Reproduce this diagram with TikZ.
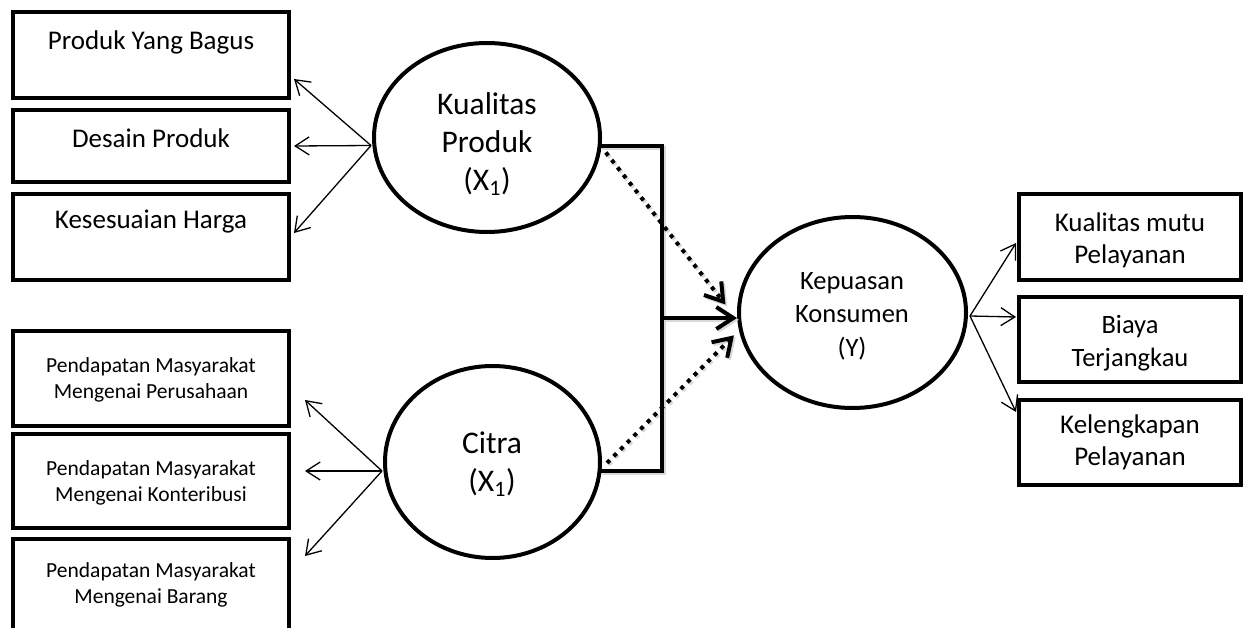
\documentclass[tikz,border=0pt]{standalone}
\usepackage{fontspec}
\setmainfont{Carlito}
\usetikzlibrary{arrows.meta,calc,shapes.geometric}
\begin{document}
\begin{tikzpicture}[x=1pt,y=-1pt,
  box/.style={draw, line width=4pt, rectangle, inner sep=0pt},
  lat/.style={draw, line width=4pt, ellipse, inner sep=0pt},
  thinarr/.style={line width=1.3pt, -{Straight Barb[length=14pt,width=18pt]}},
  thk/.style={line width=4pt},
  thkarr/.style={line width=4pt, -{Straight Barb[length=17pt,width=22pt]}},
  dotarr/.style={line width=4pt, dash pattern=on 4pt off 5.5pt, -{Straight Barb[length=17pt,width=22pt]}},
  shd/.style={draw=black!15, transform canvas={shift={(1.8pt,-1.8pt)}}},
  nos/.style={},
  tA/.style={font=\fontsize{27}{32}\selectfont, align=center, inner sep=0pt},
  tB/.style={font=\fontsize{21.5}{25.5}\selectfont, align=center, inner sep=0pt},
  tC/.style={font=\fontsize{31.5}{38}\selectfont, align=center, inner sep=0pt},
  tD/.style={font=\fontsize{26.5}{33.5}\selectfont, align=center, inner sep=0pt},
]
\useasboundingbox (0,0) rectangle (1244,628);
\clip (0,0) rectangle (1244,628);
\fill[white] (0,0) rectangle (1244,628);

% left upper boxes
\node[box, minimum width=276, minimum height=86] (b1) at (151,55) {};
\node[box, minimum width=276, minimum height=72] (b2) at (151,146) {};
\node[box, minimum width=276, minimum height=86] (b3) at (151,237) {};
\node[tA] (t1) at (151,42) {Produk Yang Bagus};
\node[tA] (t2) at (151,138) {Desain Produk};
\node[tA] (t3) at (151,222) {Kesesuaian Harga};

% left lower boxes
\node[box, minimum width=276, minimum height=95] (b4) at (151,378.5) {};
\node[box, minimum width=276, minimum height=94] (b5) at (151,481) {};
\node[box, minimum width=276, minimum height=120] (b6) at (151,599) {};
\node[tB] (t4) at (151,380) {Pendapatan Masyarakat\\Mengenai Perusahaan};
\node[tB] (t5) at (151,483) {Pendapatan Masyarakat\\Mengenai Konteribusi};
\node[tB] (t6) at (151,585) {Pendapatan Masyarakat\\Mengenai Barang};

% right boxes
\node[box, minimum width=222, minimum height=86] (b7) at (1130,237) {};
\node[box, minimum width=222, minimum height=85] (b8) at (1130,339.5) {};
\node[box, minimum width=222, minimum height=85] (b9) at (1130,442.5) {};
\node[tA] (t7) at (1130,240) {Kualitas mutu\\Pelayanan};
\node[tD] (t8) at (1130,343) {Biaya\\Terjangkau};
\node[tA] (t9) at (1130,442) {Kelengkapan\\Pelayanan};

% latent ellipses
\node[lat, minimum width=226, minimum height=189] (kual) at (487,137.5) {};
\node[lat, minimum width=215, minimum height=192] (citra) at (492.5,462) {};
\node[lat, minimum width=227, minimum height=191] (kep) at (852.5,312.5) {};
\node[tC] (tk) at (487,144) {Kualitas\\Produk\\(X\textsubscript{1})};
\node[tC] (tc) at (492,464) {Citra\\(X\textsubscript{1})};
\node[tD] (tkp) at (852,316) {Kepuasan\\Konsumen\\(Y)};

% indicator arrows
\draw[thinarr] ($(kual.west)+(-1,8)$) -- ($(b1.east)+(3,24)$);
\draw[thinarr] ($(kual.west)+(-1,8)$) -- ($(b2.east)+(3,0)$);
\draw[thinarr] ($(kual.west)+(-1,8)$) -- ($(b3.east)+(3,-4)$);
\draw[thinarr] ($(citra.west)+(-1,9)$) -- ($(b4.east)+(14,21.5)$);
\draw[thinarr] ($(citra.west)+(-1,9)$) -- ($(b5.east)+(14,-10)$);
\draw[thinarr] ($(citra.west)+(-1,9)$) -- ($(b6.north east)+(14,19)$);
\draw[thinarr] ($(kep.east)+(2,3.5)$) -- ($(b7.west)+(-1,6)$);
\draw[thinarr] ($(kep.east)+(2,3.5)$) -- ($(b8.west)+(-1,-22.5)$);
\draw[thinarr] ($(kep.east)+(2,3.5)$) -- ($(b9.north west)+(-1,14)$);

% structural paths
\coordinate (bt) at (662,146);
\coordinate (bb) at (662,471);
\coordinate (bm) at (662,318);
\foreach \s in {shd,nos} {
  \draw[thk,\s] ($(kual.east)+(-2,8.5)$) -- (bt) -- (bb) -- ($(citra.east)+(-2,9)$);
  \draw[thkarr,\s] (bm) -- (kep.west |- bm);
  \draw[dotarr,\s] ($(kual.-7)+(5,1)$) -- ($(kep.176)+(-12,0)$);
  \draw[dotarr,\s] ($(citra.east)+(5,1)$) -- ($(kep.191)+(-6,1)$);
}
\end{tikzpicture}
\end{document}
